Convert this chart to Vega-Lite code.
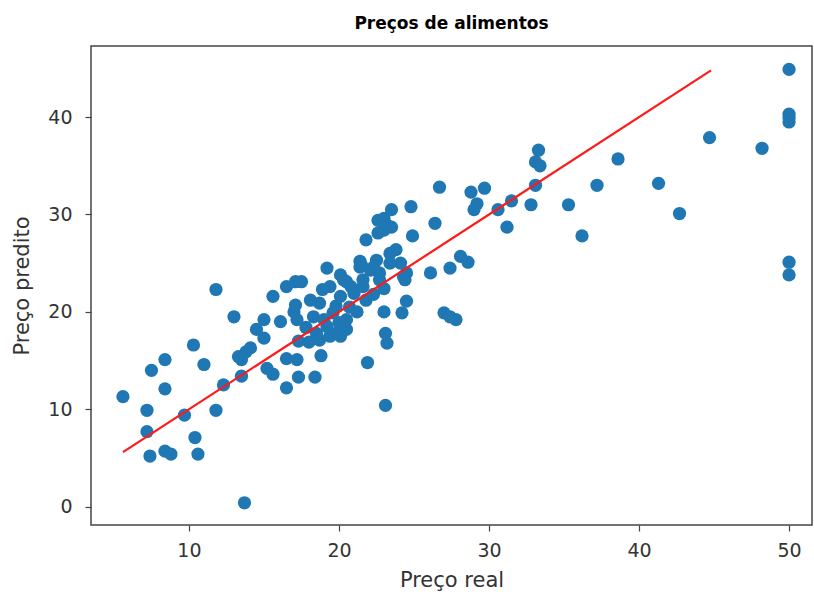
{
  "$schema": "https://vega.github.io/schema/vega-lite/v6.json",
  "width": 721,
  "height": 479,
  "autosize": {"type": "none"},
  "padding": {"left": 91, "top": 46, "right": 2, "bottom": 67},
  "background": "white",
  "title": {
    "text": "Preços de alimentos",
    "font": "DejaVu Sans",
    "fontSize": 17,
    "fontWeight": "bold",
    "color": "#000000",
    "anchor": "middle",
    "offset": 13
  },
  "config": {
    "view": {"stroke": "#444444", "strokeWidth": 1.5},
    "axis": {
      "grid": false,
      "domain": false,
      "tickColor": "#444444",
      "tickSize": 6,
      "tickWidth": 1.2,
      "labelFont": "DejaVu Sans",
      "labelFontSize": 19,
      "labelColor": "#333333",
      "titleFont": "DejaVu Sans",
      "titleFontSize": 21,
      "titleFontWeight": "normal",
      "titleColor": "#333333"
    }
  },
  "datasets": {
    "pts": [
      {"real": 5.6, "pred": 11.3}, {"real": 7.2, "pred": 9.9}, {"real": 7.2, "pred": 7.7}, {"real": 7.4, "pred": 5.2},
      {"real": 7.5, "pred": 14.0}, {"real": 8.4, "pred": 15.1}, {"real": 8.4, "pred": 12.1}, {"real": 8.4, "pred": 5.7},
      {"real": 8.8, "pred": 5.4}, {"real": 9.7, "pred": 9.4}, {"real": 10.3, "pred": 16.6}, {"real": 10.4, "pred": 7.1},
      {"real": 10.6, "pred": 5.4}, {"real": 11.0, "pred": 14.6}, {"real": 11.8, "pred": 22.3}, {"real": 11.8, "pred": 9.9},
      {"real": 12.3, "pred": 12.5}, {"real": 13.0, "pred": 19.5}, {"real": 13.7, "pred": 0.4}, {"real": 13.3, "pred": 15.4},
      {"real": 13.8, "pred": 15.9}, {"real": 14.1, "pred": 16.3}, {"real": 13.5, "pred": 15.1}, {"real": 13.5, "pred": 13.4},
      {"real": 14.5, "pred": 18.2}, {"real": 15.0, "pred": 19.2}, {"real": 15.0, "pred": 17.3}, {"real": 15.2, "pred": 14.2},
      {"real": 15.6, "pred": 13.6}, {"real": 15.6, "pred": 21.6}, {"real": 16.1, "pred": 19.0}, {"real": 16.5, "pred": 22.6},
      {"real": 17.1, "pred": 23.1}, {"real": 17.5, "pred": 23.1}, {"real": 17.0, "pred": 20.0}, {"real": 17.1, "pred": 20.7},
      {"real": 17.2, "pred": 19.2}, {"real": 16.5, "pred": 15.2}, {"real": 17.2, "pred": 15.1}, {"real": 16.5, "pred": 12.2},
      {"real": 17.3, "pred": 13.3}, {"real": 17.3, "pred": 17.0}, {"real": 18.4, "pred": 13.3}, {"real": 18.8, "pred": 15.5},
      {"real": 18.3, "pred": 19.5}, {"real": 18.1, "pred": 21.2}, {"real": 18.7, "pred": 20.9}, {"real": 19.0, "pred": 19.2},
      {"real": 19.4, "pred": 22.6}, {"real": 19.6, "pred": 19.9}, {"real": 19.8, "pred": 17.8}, {"real": 20.1, "pred": 21.6},
      {"real": 20.3, "pred": 23.3}, {"real": 20.5, "pred": 19.2}, {"real": 20.7, "pred": 20.5}, {"real": 21.0, "pred": 21.9},
      {"real": 21.4, "pred": 24.6}, {"real": 21.6, "pred": 22.6}, {"real": 21.8, "pred": 21.2}, {"real": 22.1, "pred": 24.3},
      {"real": 22.5, "pred": 25.3}, {"real": 22.7, "pred": 23.3}, {"real": 23.4, "pred": 26.0}, {"real": 23.8, "pred": 26.4},
      {"real": 24.1, "pred": 25.0}, {"real": 24.5, "pred": 24.0}, {"real": 24.4, "pred": 23.3}, {"real": 18.5, "pred": 17.8},
      {"real": 18.7, "pred": 17.1}, {"real": 19.4, "pred": 17.5}, {"real": 20.1, "pred": 17.5}, {"real": 20.5, "pred": 18.2},
      {"real": 19.2, "pred": 18.5}, {"real": 19.2, "pred": 24.5}, {"real": 21.9, "pred": 14.8}, {"real": 23.1, "pred": 10.4},
      {"real": 23.0, "pred": 20.0}, {"real": 24.2, "pred": 19.9}, {"real": 24.5, "pred": 21.1}, {"real": 23.1, "pred": 17.8},
      {"real": 23.2, "pred": 16.8}, {"real": 21.8, "pred": 27.4}, {"real": 22.6, "pred": 28.1}, {"real": 23.0, "pred": 28.4},
      {"real": 22.6, "pred": 29.4}, {"real": 23.0, "pred": 29.6}, {"real": 23.2, "pred": 28.9}, {"real": 23.5, "pred": 28.7},
      {"real": 23.5, "pred": 30.5}, {"real": 24.8, "pred": 30.8}, {"real": 24.9, "pred": 27.8}, {"real": 26.4, "pred": 29.1},
      {"real": 26.7, "pred": 32.8}, {"real": 26.1, "pred": 24.0}, {"real": 27.4, "pred": 24.5}, {"real": 28.1, "pred": 25.7},
      {"real": 28.6, "pred": 25.1}, {"real": 27.0, "pred": 19.9}, {"real": 27.4, "pred": 19.5}, {"real": 27.8, "pred": 19.2},
      {"real": 24.3, "pred": 23.6}, {"real": 21.4, "pred": 25.2}, {"real": 20.1, "pred": 23.8}, {"real": 20.5, "pred": 23.1},
      {"real": 21.6, "pred": 23.3}, {"real": 22.7, "pred": 24.0}, {"real": 23.0, "pred": 22.4}, {"real": 23.4, "pred": 25.0},
      {"real": 22.3, "pred": 24.6}, {"real": 21.5, "pred": 24.8}, {"real": 28.8, "pred": 32.3}, {"real": 29.7, "pred": 32.7},
      {"real": 29.2, "pred": 31.1}, {"real": 29.0, "pred": 30.5}, {"real": 30.6, "pred": 30.5}, {"real": 31.5, "pred": 31.4},
      {"real": 31.2, "pred": 28.7}, {"real": 32.8, "pred": 31.0}, {"real": 33.1, "pred": 33.0}, {"real": 33.1, "pred": 35.4},
      {"real": 33.4, "pred": 35.0}, {"real": 33.3, "pred": 36.6}, {"real": 35.3, "pred": 31.0}, {"real": 36.2, "pred": 27.8},
      {"real": 37.2, "pred": 33.0}, {"real": 38.6, "pred": 35.7}, {"real": 41.3, "pred": 33.2}, {"real": 42.7, "pred": 30.1},
      {"real": 44.7, "pred": 37.9}, {"real": 48.2, "pred": 36.8}, {"real": 50.0, "pred": 44.9}, {"real": 50.0, "pred": 40.3},
      {"real": 50.0, "pred": 39.9}, {"real": 50.0, "pred": 39.5}, {"real": 50.0, "pred": 25.1}, {"real": 50.0, "pred": 23.8},
      {"real": 17.8, "pred": 18.4}, {"real": 18.9, "pred": 22.3}, {"real": 20.8, "pred": 22.6}, {"real": 21.2, "pred": 20.0},
      {"real": 19.8, "pred": 20.6}, {"real": 20.0, "pred": 18.9}, {"real": 22.3, "pred": 21.8}, {"real": 18.0, "pred": 16.9}
    ],
    "line": [
      {"real": 5.6, "pred": 5.6},
      {"real": 44.8, "pred": 44.8}
    ]
  },
  "layer": [
    {
      "data": {"name": "pts"},
      "mark": {"type": "circle", "color": "#1f77b4", "opacity": 1, "size": 175},
      "encoding": {
        "x": {
          "field": "real", "type": "quantitative",
          "scale": {"domain": [3.47, 51.53], "nice": false, "zero": false},
          "axis": {"values": [10, 20, 30, 40, 50], "title": "Preço real", "labelPadding": 10, "titlePadding": 9}
        },
        "y": {
          "field": "pred", "type": "quantitative",
          "scale": {"domain": [-1.88, 47.3], "nice": false, "zero": false},
          "axis": {"values": [0, 10, 20, 30, 40], "title": "Preço predito", "labelPadding": 13, "titlePadding": 15}
        }
      }
    },
    {
      "data": {"name": "line"},
      "mark": {"type": "line", "color": "#ff1a1a", "strokeWidth": 2.2},
      "encoding": {
        "x": {"field": "real", "type": "quantitative"},
        "y": {"field": "pred", "type": "quantitative"}
      }
    }
  ]
}
